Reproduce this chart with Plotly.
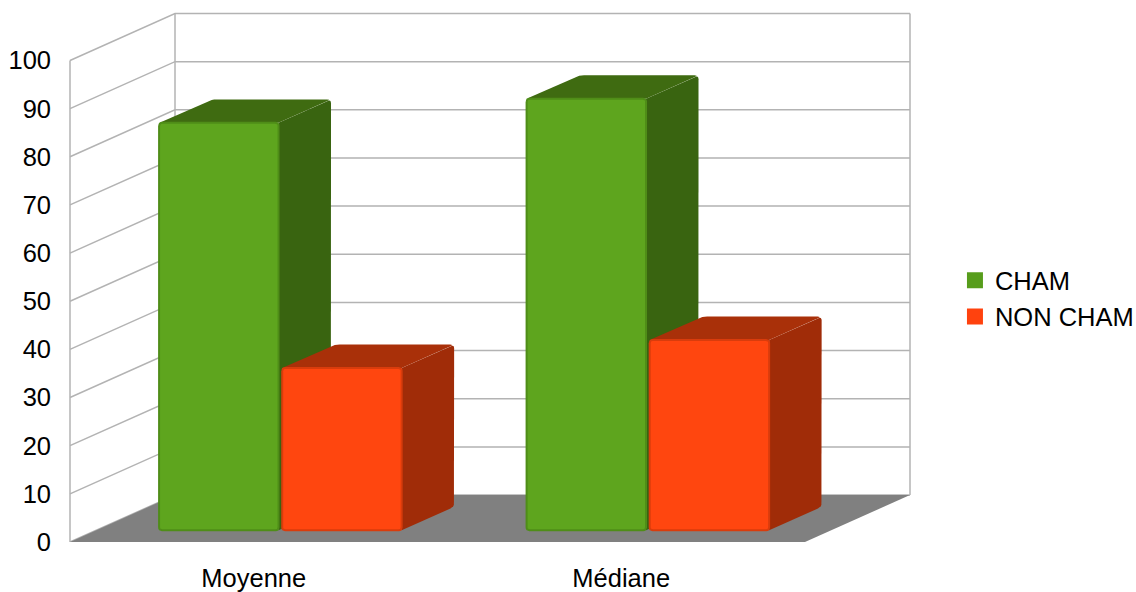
import plotly.graph_objects as go

# ---- data ----
categories = ["Moyenne", "Médiane"]
series_names = ["CHAM", "NON CHAM"]
cham_values = [84.6, 89.6]
non_cham_values = [33.7, 39.5]
y_ticks = [0, 10, 20, 30, 40, 50, 60, 70, 80, 90, 100]

# ---- style ----
FONT = "Liberation Sans"
FONT_SIZE = 25.5
GRID = "#b3b3b3"
FLOOR = "#808080"
STYLES = [
    dict(front="#5ea51e", edge="#4f8d18", top="#3f6b11", side="#396410", key="#579d1c", gap=0.004),
    dict(front="#ff460f", edge="#d93c0c", top="#a93009", side="#a02c08", key="#ff420e", gap=0.006),
]

# ---- oblique projection, in axis units ----
PX_X, PX_Y = 367.5, 4.82          # pixels per category / per value unit
DEPTH_X, DEPTH_Y = 105 / PX_X, 47 / PX_Y
BAR_W = 0.325
BAR_Z0, BAR_Z1 = 0.25, 0.75       # bar start / end along the depth


def proj(x, v, z):
    return x + z * DEPTH_X, v + z * DEPTH_Y


def rounded(points, radii):
    """Polygon with quadratic corners; radius is in pixels for each vertex."""
    out_x, out_y = [], []
    n = len(points)
    for i, (x, y) in enumerate(points):
        r = radii[i]
        if r <= 0:
            out_x.append(x)
            out_y.append(y)
            continue
        px, py = points[i - 1]
        nx, ny = points[(i + 1) % n]

        def toward(ax, ay):
            dx, dy = (ax - x) * PX_X, (ay - y) * PX_Y
            d = (dx * dx + dy * dy) ** 0.5
            return x + (ax - x) * r / d, y + (ay - y) * r / d

        a, b = toward(px, py), toward(nx, ny)
        for t in (0, 0.25, 0.5, 0.75, 1):
            out_x.append((1 - t) ** 2 * a[0] + 2 * t * (1 - t) * x + t * t * b[0])
            out_y.append((1 - t) ** 2 * a[1] + 2 * t * (1 - t) * y + t * t * b[1])
    out_x.append(out_x[0])
    out_y.append(out_y[0])
    return out_x, out_y


fig = go.Figure()


def line(xs, ys):
    fig.add_trace(go.Scatter(x=xs, y=ys, mode="lines", line=dict(color=GRID, width=1.5),
                             showlegend=False, hoverinfo="skip"))


def poly(xs, ys, fill, edge=None, width=0):
    fig.add_trace(go.Scatter(x=xs, y=ys, mode="lines", fill="toself", fillcolor=fill,
                             line=dict(color=edge or fill, width=width),
                             showlegend=False, hoverinfo="skip"))


x_left, x_right = -0.5, len(categories) - 0.5
v_max = y_ticks[-1]

# walls
for v in y_ticks:
    bx0, by = proj(x_left, v, 1)
    bx1, _ = proj(x_right, v, 1)
    line([x_left, bx0, bx1], [v, by, by])
bx0, by0 = proj(x_left, 0, 1)
_, by1 = proj(x_left, v_max, 1)
bx1, _ = proj(x_right, 0, 1)
line([x_left, x_left], [0, v_max])
line([bx0, bx0], [by0, by1])
line([bx1, bx1], [by0, by1])

# floor
fx = [x_left, x_right, bx1, bx0, x_left]
fy = [0, 0, by0, by0, 0]
poly(fx, fy, FLOOR)

# bars, left to right
series_values = [cham_values, non_cham_values]
for c in range(len(categories)):
    for s in range(len(series_names)):
        st = STYLES[s]
        v = series_values[s][c]
        x0 = c - BAR_W - st["gap"] if s == 0 else c + st["gap"]
        x1 = x0 + BAR_W
        a = proj(x0, v, BAR_Z0)
        b = proj(x1, v, BAR_Z0)
        c_ = proj(x1, 0, BAR_Z0)
        d = proj(x0, 0, BAR_Z0)
        a2 = proj(x0, v, BAR_Z1)
        b2 = proj(x1, v, BAR_Z1)
        c2 = proj(x1, 0, BAR_Z1)
        poly(*rounded([b, b2, c2, c_], [0, 4, 4, 0]), st["side"])
        poly(*rounded([a, a2, b2, b], [3, 5, 4, 0]), st["top"])
        poly(*rounded([a, b, c_, d], [3, 3, 3, 3]), st["front"], st["edge"], 2)

# legend keys
for name, st in zip(series_names, STYLES):
    fig.add_trace(go.Scatter(x=[None], y=[None], mode="markers", name=name,
                             marker=dict(symbol="square", size=16, color=st["key"])))

fig.update_layout(
    width=1136, height=592,
    margin=dict(l=66, r=222, t=10, b=49.5, pad=0, autoexpand=False),
    paper_bgcolor="white", plot_bgcolor="white",
    font=dict(family=FONT, size=FONT_SIZE, color="#000000"),
    showlegend=True,
    legend=dict(x=1.0483, xanchor="left", xref="paper", y=0.4573, yanchor="middle",
                font=dict(family=FONT, size=FONT_SIZE), bgcolor="rgba(0,0,0,0)",
                tracegroupgap=0),
    xaxis=dict(range=[x_left - 4 / PX_X, x_left + 844 / PX_X], tickmode="array",
               tickvals=list(range(len(categories))), ticktext=categories,
               showgrid=False, zeroline=False, showline=False,
               ticks="", ticklabelstandoff=18, fixedrange=True),
    yaxis=dict(range=[0, 532.5 / PX_Y], tickmode="array", tickvals=y_ticks,
               showgrid=False, zeroline=False, showline=False,
               ticks="", ticklabelstandoff=14, fixedrange=True),
)

fig.write_html("out.html", default_width="1136px", default_height="592px",
               config={"displayModeBar": False},
               post_script="document.body.style.margin = '0';")
